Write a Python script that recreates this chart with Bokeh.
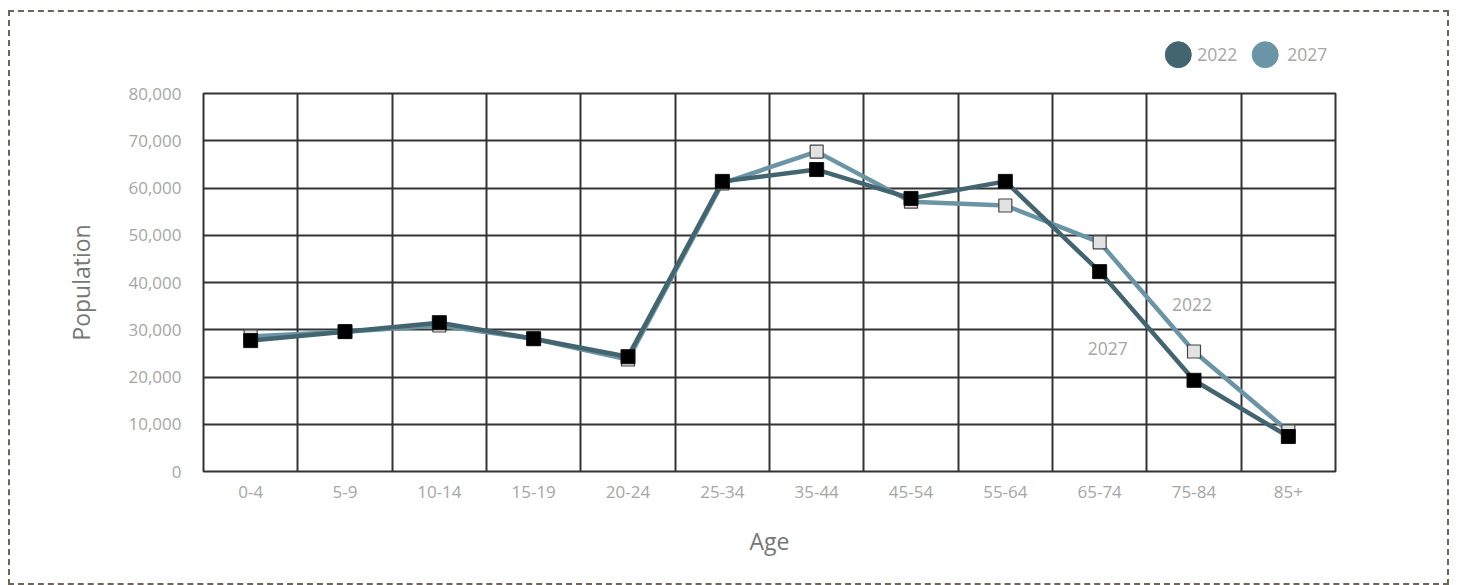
from bokeh.plotting import figure
from bokeh.layouts import column
from bokeh.models import FixedTicker, NumeralTickFormatter, Label, Range1d, ColumnDataSource
from bokeh.core.properties import value
from bokeh.embed import file_html
from bokeh.resources import INLINE

# ---- data ----
age_groups = ["0-4", "5-9", "10-14", "15-19", "20-24", "25-34", "35-44",
              "45-54", "55-64", "65-74", "75-84", "85+"]
pop_2022 = [27700, 29600, 31500, 28100, 24300, 61400, 63900, 57800, 61400, 42300, 19300, 7400]
pop_2027 = [28600, 29600, 30900, 28100, 23700, 61000, 67700, 57100, 56300, 48500, 25400, 8500]
y_ticks = [0, 10000, 20000, 30000, 40000, 50000, 60000, 70000, 80000]
series_names = ["2022", "2027"]

DARK = "#426570"
LIGHT = "#6b95a6"
GRID = "#333333"
TXT = "#a6a6a6"
FONT = "Open Sans"
W = 1437
BL, BR = 193, 112

# ---- legend header (page pixel coordinates) ----
hdr = figure(width=W, height=67, output_backend="svg", toolbar_location=None,
             x_range=Range1d(203, 1335), y_range=Range1d(79, 12),
             x_axis_type=None, y_axis_type=None,
             min_border_left=BL, min_border_right=BR, min_border_top=0, min_border_bottom=0)
hdr.outline_line_color = None
hdr.xgrid.visible = False
hdr.ygrid.visible = False
leg = ColumnDataSource(dict(cx=[1177.8, 1264.7], tx=[1196.7, 1286.7], cy=[54.2, 54.2],
                            name=series_names, color=[DARK, LIGHT]))
hdr.scatter("cx", "cy", source=leg, marker="circle", size=26, fill_color="color", line_color="color")
hdr.text("tx", "cy", text="name", source=leg, text_color=TXT, text_font=value(FONT),
         text_font_size="17.5px", text_baseline="middle", text_align="left")

# ---- main chart ----
xs = [i + 0.5 for i in range(len(age_groups))]

p = figure(width=W, height=504, output_backend="svg", toolbar_location=None,
           x_range=(0, len(age_groups)), y_range=(0, 80000),
           min_border_left=BL, min_border_right=BR, min_border_top=14, min_border_bottom=112)

p.outline_line_color = GRID
p.outline_line_width = 2
p.outline_line_alpha = 1

p.xaxis.ticker = FixedTicker(ticks=xs)
p.xaxis.major_label_overrides = {x: g for x, g in zip(xs, age_groups)}
p.yaxis.ticker = FixedTicker(ticks=y_ticks)
p.yaxis.formatter = NumeralTickFormatter(format="0,0")
for ax in (p.xaxis[0], p.yaxis[0]):
    ax.axis_line_color = None
    ax.major_tick_line_color = None
    ax.minor_tick_line_color = None
    ax.major_tick_out = 0
    ax.major_tick_in = 0
    ax.minor_tick_out = 0
    ax.major_label_text_color = TXT
    ax.major_label_text_font = FONT
    ax.major_label_text_font_size = "17px"
    ax.axis_label_text_color = "#777777"
    ax.axis_label_text_font = FONT
    ax.axis_label_text_font_size = "23px"
    ax.axis_label_text_font_style = "normal"
p.xaxis.axis_label = "Age"
p.yaxis.axis_label = "Population"
p.xaxis.major_label_standoff = 14
p.xaxis.axis_label_standoff = 24
p.yaxis.major_label_standoff = 22
p.yaxis.axis_label_standoff = 28

p.xgrid.ticker = FixedTicker(ticks=list(range(len(age_groups) + 1)))
p.ygrid.ticker = FixedTicker(ticks=y_ticks)
for g in (p.xgrid[0], p.ygrid[0]):
    g.grid_line_color = GRID
    g.grid_line_width = 2
    g.grid_line_alpha = 1

p.line(xs, pop_2027, line_color=LIGHT, line_width=4.5)
p.line(xs, pop_2022, line_color=DARK, line_width=4.5)
p.scatter(xs, pop_2027, marker="square", size=13, fill_color="#e2e2e2", line_color="#444444", line_width=1.2)
p.scatter(xs, pop_2022, marker="square", size=14, fill_color="#000000", line_color="#111111", line_width=1)

p.add_layout(Label(x=10.5, y=35300, text=series_names[0], text_color=TXT, text_font=FONT,
                   text_font_size="17.5px", text_align="center", text_baseline="middle", x_offset=-2))
p.add_layout(Label(x=9.5, y=26100, text=series_names[1], text_color=TXT, text_font=FONT,
                   text_font_size="17.5px", text_align="center", text_baseline="middle", x_offset=8))

layout = column(hdr, p, spacing=0)
layout.styles = {"border": "2px dashed #6e645c", "margin-left": "8px", "margin-top": "10px"}

open("out.html", "w").write(file_html(layout, INLINE))
